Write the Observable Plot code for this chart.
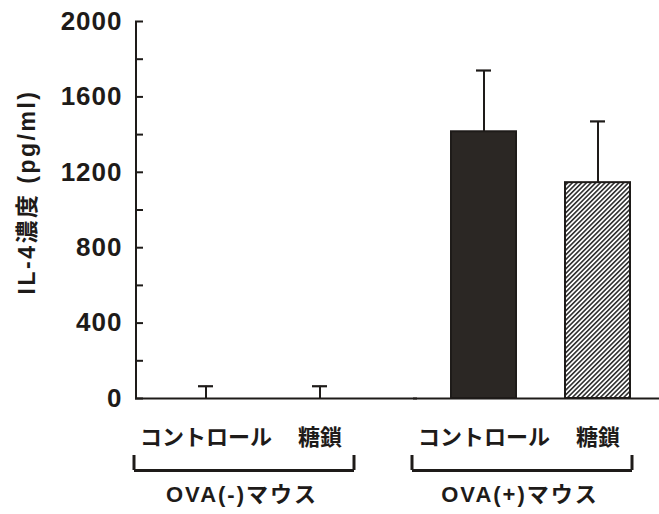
<!DOCTYPE html>
<html>
<head>
<meta charset="utf-8">
<script src="https://cdn.jsdelivr.net/npm/d3@7"></script>
<script src="https://cdn.jsdelivr.net/npm/@observablehq/plot@0.6"></script>
<style>
  html, body { margin: 0; padding: 0; background: #fff; }
  #chart { width: 659px; height: 514px; }
</style>
</head>
<body>
<svg width="0" height="0" style="position:absolute">
  <defs>
    <pattern id="hatch" width="3.3" height="10" patternUnits="userSpaceOnUse" patternTransform="rotate(45)">
      <rect width="3.3" height="10" fill="#fff"></rect>
      <line x1="0.8" y1="0" x2="0.8" y2="10" stroke="#222" stroke-width="1.5"></line>
    </pattern>
  </defs>
</svg>
<div id="chart"></div>
<script>
// ---- data ----
const groupLabels = ["OVA(-)マウス", "OVA(+)マウス"];
const treatmentLabels = ["コントロール", "糖鎖"];
// order: OVA(-)コントロール, OVA(-)糖鎖, OVA(+)コントロール, OVA(+)糖鎖
const meanValues = [0, 0, 1415, 1145];
const errorValues = [65, 65, 325, 325];
const yTicks = [0, 200, 400, 600, 800, 1000, 1200, 1400, 1600, 1800, 2000];
const yLabeledTicks = [0, 400, 800, 1200, 1600, 2000];
const yAxisLabel = "IL-4濃度 (pg/ml)";

const rows = meanValues.map((v, i) => ({
  group: groupLabels[Math.floor(i / 2)],
  treatment: treatmentLabels[i % 2],
  mean: v,
  top: v + errorValues[i]
}));

const ink = "#1e1b19";
const latin = "'Liberation Sans', Arial, 'Noto Sans CJK JP', sans-serif";

const chart = Plot.plot({
  width: 659,
  height: 514,
  marginTop: 21,
  marginBottom: 116,
  marginLeft: 135,
  marginRight: 9,
  style: { fontFamily: latin, color: ink, background: "#fff" },
  fx: { domain: groupLabels, paddingInner: 0.1475, paddingOuter: 0, label: null },
  x: { domain: treatmentLabels, paddingInner: 0.432, paddingOuter: 0.251, align: 0.652, label: null },
  y: { domain: [0, 2000], label: null },
  marks: [
    // bars
    Plot.barY(rows.filter(d => d.treatment === treatmentLabels[0]), {
      fx: "group", x: "treatment", y: "mean", fill: "#2b2724", stroke: ink, strokeWidth: 2
    }),
    Plot.barY(rows.filter(d => d.treatment === treatmentLabels[1]), {
      fx: "group", x: "treatment", y: "mean", fill: "url(#hatch)", stroke: ink, strokeWidth: 2
    }),
    // error bars
    Plot.ruleX(rows, { fx: "group", x: "treatment", y1: "mean", y2: "top", stroke: ink, strokeWidth: 2 }),
    Plot.tickY(rows, { fx: "group", x: "treatment", y: "top", stroke: ink, strokeWidth: 2.2, insetLeft: 25, insetRight: 25 }),
    // baseline
    Plot.ruleY([0], { stroke: ink, strokeWidth: 2, insetRight: -45 }),
    // y axis line (left edge of the first panel)
    Plot.ruleX([treatmentLabels[0]], {
      fx: () => groupLabels[0], x: d => d, y1: yTicks[0], y2: yTicks[yTicks.length - 1],
      dx: -70, stroke: ink, strokeWidth: 2
    }),
    // y axis
    Plot.axisY({
      ticks: yTicks, tickSize: -8, tickPadding: 21, strokeWidth: 2,
      tickFormat: d => yLabeledTicks.includes(d) ? String(d) : "",
      fontSize: 26, fontWeight: "bold", label: null
    }),
    // y axis title
    Plot.text([yAxisLabel], {
      fx: () => groupLabels[0], text: d => d, frameAnchor: "left", textAnchor: "middle", rotate: -90,
      dx: -108, dy: -18, fontSize: 23, fontWeight: "bold", fill: ink
    }),
    // category labels
    Plot.axisX({ tickSize: 0, tickPadding: 31, fontSize: 22, fontWeight: 600, label: null,
      fontFamily: "'Noto Sans CJK JP', sans-serif" }),
    // brackets
    Plot.ruleY([0], { dy: 72, insetLeft: -1, insetRight: 18, stroke: ink, strokeWidth: 3 }),
    Plot.ruleX([treatmentLabels[0]], { x: d => d, y1: 0, y2: 0, dx: -72, dy: 72, insetTop: -15, stroke: ink, strokeWidth: 3 }),
    Plot.ruleX([treatmentLabels[1]], { x: d => d, y1: 0, y2: 0, dx: 34, dy: 72, insetTop: -15, stroke: ink, strokeWidth: 3 }),
    // group labels
    Plot.axisFx({ anchor: "bottom", tickSize: 0, tickPadding: 88, fontSize: 22, fontWeight: "bold",
      dx: -12, label: null })
  ]
});

document.getElementById("chart").appendChild(chart);

// text spacing tweaks to mimic the wide typeface of the original
d3.select(chart).selectAll("text").each(function () {
  const t = this.textContent;
  if (t === yAxisLabel) d3.select(this).style("letter-spacing", "2.5px");
  else if (groupLabels.includes(t)) d3.select(this).style("letter-spacing", "2px");
  else if (/^\d+$/.test(t)) d3.select(this).style("letter-spacing", "1px");
});
</script>
</body>
</html>
